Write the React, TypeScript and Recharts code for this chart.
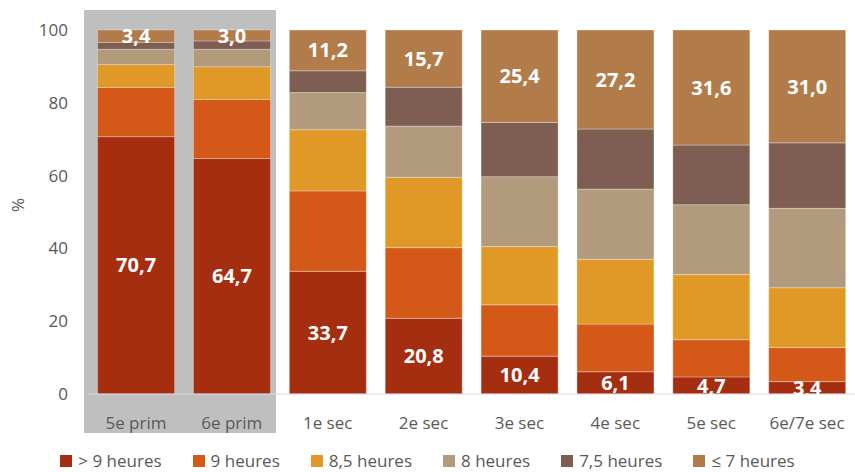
import React from 'react';
import { BarChart, Bar, XAxis, YAxis, Legend, LabelList } from 'recharts';

const categories = ['5e prim', '6e prim', '1e sec', '2e sec', '3e sec', '4e sec', '5e sec', '6e/7e sec'];

const over9 = [70.7, 64.7, 33.7, 20.8, 10.4, 6.1, 4.7, 3.4];
const hours9 = [13.5, 16.2, 22.1, 19.4, 14.1, 13.1, 10.2, 9.4];
const hours85 = [6.3, 9.0, 16.8, 19.3, 16.0, 17.8, 17.9, 16.4];
const hours8 = [4.2, 4.8, 10.2, 14.1, 19.2, 19.3, 19.2, 21.8];
const hours75 = [1.9, 2.3, 6.0, 10.7, 14.9, 16.5, 16.4, 18.0];
const under7 = [3.4, 3.0, 11.2, 15.7, 25.4, 27.2, 31.6, 31.0];

const yTicks = [0, 20, 40, 60, 80, 100];

const series = [
    { key: 'over9', name: '> 9 heures', color: '#a52e10', values: over9, labelled: true },
    { key: 'h9', name: '9 heures', color: '#d45817', values: hours9, labelled: false },
    { key: 'h85', name: '8,5 heures', color: '#e09826', values: hours85, labelled: false },
    { key: 'h8', name: '8 heures', color: '#b19b7c', values: hours8, labelled: false },
    { key: 'h75', name: '7,5 heures', color: '#7e5e52', values: hours75, labelled: false },
    { key: 'under7', name: '≤ 7 heures', color: '#b27c4a', values: under7, labelled: true },
];

const data = categories.map((name, i) => {
    const row: Record<string, string | number> = { name };
    series.forEach((s) => {
        row[s.key] = s.values[i];
    });
    return row;
});

const CHART_W = 855;
const CHART_H = 472;
const PLOT_LEFT = 88;
const BAND = (CHART_W - PLOT_LEFT) / categories.length;
const FONT = '"Open Sans", sans-serif';

const formatValue = (v: any) => Number(v).toFixed(1).replace('.', ',');

const LegendContent = () => (
    <div
        style={{
            height: 38,
            paddingTop: 16,
            boxSizing: 'border-box',
            display: 'flex',
            justifyContent: 'center',
            fontFamily: FONT,
            fontSize: 17,
            lineHeight: '18px',
            color: '#595959',
        }}
    >
        {series.map((s, i) => (
            <div
                key={s.key}
                style={{ display: 'flex', alignItems: 'center', marginRight: i === series.length - 1 ? 0 : 31 }}
            >
                <span style={{ width: 12, height: 12, background: s.color, marginRight: 6 }} />
                <span>{s.name}</span>
            </div>
        ))}
    </div>
);

export default function App() {
    return (
        <div style={{ position: 'relative', width: CHART_W, height: CHART_H, background: '#fff' }}>
            <style>{`body { margin: 0; }`}</style>
            {/* grey panel behind the two primary-school columns */}
            <div
                style={{
                    position: 'absolute',
                    left: PLOT_LEFT - 4,
                    top: 10,
                    width: BAND * 2,
                    height: 423,
                    background: '#bfbfbf',
                }}
            />
            <div style={{ position: 'absolute', left: 0, top: 0 }}>
                <BarChart
                    width={CHART_W}
                    height={CHART_H}
                    data={data}
                    margin={{ top: 30, right: 0, left: 0, bottom: 0 }}
                    barCategoryGap="10%"
                >
                    <XAxis
                        dataKey="name"
                        height={40}
                        tickLine={false}
                        axisLine={{ stroke: '#d9d9d9' }}
                        tickMargin={17}
                        tick={{ fill: '#595959', fontSize: 17, fontFamily: FONT }}
                    />
                    <YAxis
                        width={PLOT_LEFT}
                        domain={[0, 100]}
                        ticks={yTicks}
                        axisLine={false}
                        tickLine={false}
                        tickMargin={14}
                        tick={{ fill: '#595959', fontSize: 17, fontFamily: FONT }}
                        label={{
                            value: '%',
                            angle: -90,
                            position: 'insideLeft',
                            offset: 18,
                            fill: '#595959',
                            fontSize: 17,
                            fontFamily: FONT,
                        }}
                    />
                    <Legend verticalAlign="bottom" content={<LegendContent />} />
                    {series.map((s) => (
                        <Bar
                            key={s.key}
                            dataKey={s.key}
                            name={s.name}
                            stackId="a"
                            fill={s.color}
                            stroke="rgba(255,255,255,0.3)"
                            strokeWidth={1}
                            isAnimationActive={false}
                        >
                            {s.labelled && (
                                <LabelList
                                    dataKey={s.key}
                                    position="center"
                                    formatter={formatValue}
                                    fill="#ffffff"
                                    fontSize={20}
                                    fontWeight="bold"
                                    fontFamily={FONT}
                                />
                            )}
                        </Bar>
                    ))}
                </BarChart>
            </div>
        </div>
    );
}
